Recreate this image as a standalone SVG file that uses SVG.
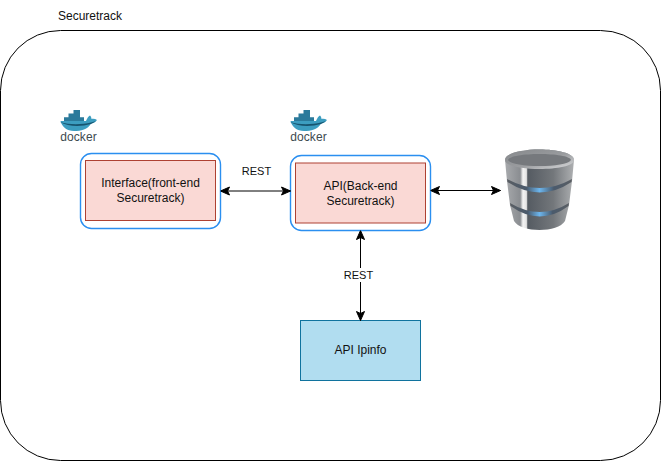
<svg xmlns="http://www.w3.org/2000/svg" xmlns:xlink="http://www.w3.org/1999/xlink" width="661" height="461" viewBox="0 0 661 461">
<style>
text{font-family:"Liberation Sans",Arial,sans-serif;font-size:12px;fill:#111;text-anchor:middle}
.outer{fill:#fff;stroke:#000;stroke-width:1}
.box{fill:#fff;stroke:#2b8ff0;stroke-width:1.4}
.inner{fill:#fad9d5;stroke:#ae4132;stroke-width:1}
.ip{fill:#b1ddf0;stroke:#10739e;stroke-width:1}
.c{fill:none;stroke:#000;stroke-width:1;marker-start:url(#a);marker-end:url(#a)}
.lbl{font-size:11px}
.dk{font-size:12px;fill:#3d4a50;letter-spacing:.1px}
</style>
<defs>
<marker id="a" viewBox="0 0 10 10" refX="10" refY="5" markerWidth="10" markerHeight="10" markerUnits="userSpaceOnUse" orient="auto-start-reverse">
<path d="M1 1 L10 5 L1 9 L3 5 Z" fill="#000" stroke="#000" stroke-width="1"/>
</marker>
<linearGradient id="body" x1="0" x2="1" y1="0" y2="0">
<stop offset="0" stop-color="#a8aaad"/><stop offset=".22" stop-color="#8a8d91"/><stop offset=".26" stop-color="#f4f4f4"/><stop offset=".31" stop-color="#e4e4e4"/><stop offset=".33" stop-color="#555b62"/><stop offset=".7" stop-color="#73777b"/><stop offset="1" stop-color="#aeb0b2"/>
</linearGradient>
<linearGradient id="top" x1="0" x2="1" y1="0" y2="1">
<stop offset="0" stop-color="#85888b"/><stop offset=".55" stop-color="#9a9c9f"/><stop offset="1" stop-color="#dcdddf"/>
</linearGradient>
<linearGradient id="glow" x1="0" x2="1" y1="0" y2="0">
<stop offset="0" stop-color="#5a5e63"/><stop offset=".3" stop-color="#4a5a6c"/><stop offset=".5" stop-color="#6cb6ee"/><stop offset=".72" stop-color="#4a5a6c"/><stop offset="1" stop-color="#5a5e63"/>
</linearGradient>
<g id="dock">
<path d="M0.5 11 H26 C27 8.5 28.5 6 30 5.500 C31 6.500 31.5 8 31.5 9 C33.5 8.500 35.5 9 37 10 C35.5 12.500 33 13.500 31 13.500 C28 19.500 21 21 14 21 C7 21 2 17 0.5 11 Z" fill="#3c9dc0"/>
<path d="M4 7.200 H24 V11 H4 Z M8.500 3.600 H20 V7.200 H8.500 Z M13.500 0 H20 V3.600 H13.500 Z" fill="#2b7a9b"/>
<path d="M0 12 C10 15 22 14.500 31 12.500 L36 11 L31 14 C20 17 8 16.500 0 12 Z" fill="#17546f"/>
<text class="dk" x="18.500" y="31">docker</text>
</g>
</defs>

<g id="container"><rect class="outer" x="0.5" y="30.500" width="660" height="430" rx="60" ry="60"/><text x="90" y="19.500">Securetrack</text></g>

<g id="frontend">
<rect class="box" x="80.500" y="153.500" width="140" height="75" rx="11"/>
<rect class="inner" x="85.500" y="160.500" width="130" height="60"/>
<text x="150.500" y="187">Interface(front-end</text><text x="150.500" y="202">Securetrack)</text>
<use xlink:href="#dock" href="#dock" x="60" y="110"/>
</g>

<g id="backend">
<rect class="box" x="290.500" y="155.500" width="140" height="75" rx="11"/>
<rect class="inner" x="295.500" y="163" width="130" height="60"/>
<text x="360.500" y="190">API(Back-end</text><text x="360.500" y="205">Securetrack)</text>
<use xlink:href="#dock" href="#dock" x="290" y="110"/>
</g>

<g id="ipinfo"><rect class="ip" x="300.500" y="320.500" width="120" height="60"/><text x="360.500" y="354">API Ipinfo</text></g>

<g id="database">
<path d="M505 160 C505 146 574 146 574 160 L572 181 L569 205 L565 221 C558 233 521 233 514 221 L510 205 L507 181 Z" fill="url(#body)"/>
<path d="M505 160 C505 146 574 146 574 160 C574 172 505 172 505 160 Z" fill="url(#top)"/>
<path d="M508 160 C510 152 569 152 571 160 C566 168 513 168 508 160 Z" fill="#76797d"/>
<path d="M507 179 Q540 197 572 179 L571.500 182 Q540 203 507.500 182 Z" fill="url(#glow)"/>
<path d="M510 203 Q540 221 569 203 L568.500 206 Q540 227 510.500 206 Z" fill="url(#glow)"/>
</g>

<g id="connectors">
<path class="c" d="M220.500 191 H290.500"/>
<path class="c" d="M430.500 190.500 H500.500"/>
<path class="c" d="M360.500 230.500 V320.500"/>
<rect x="343" y="268" width="32" height="14" fill="#fff"/>
<text class="lbl" x="256.500" y="175">REST</text>
<text class="lbl" x="358.500" y="279">REST</text>
</g>
</svg>
